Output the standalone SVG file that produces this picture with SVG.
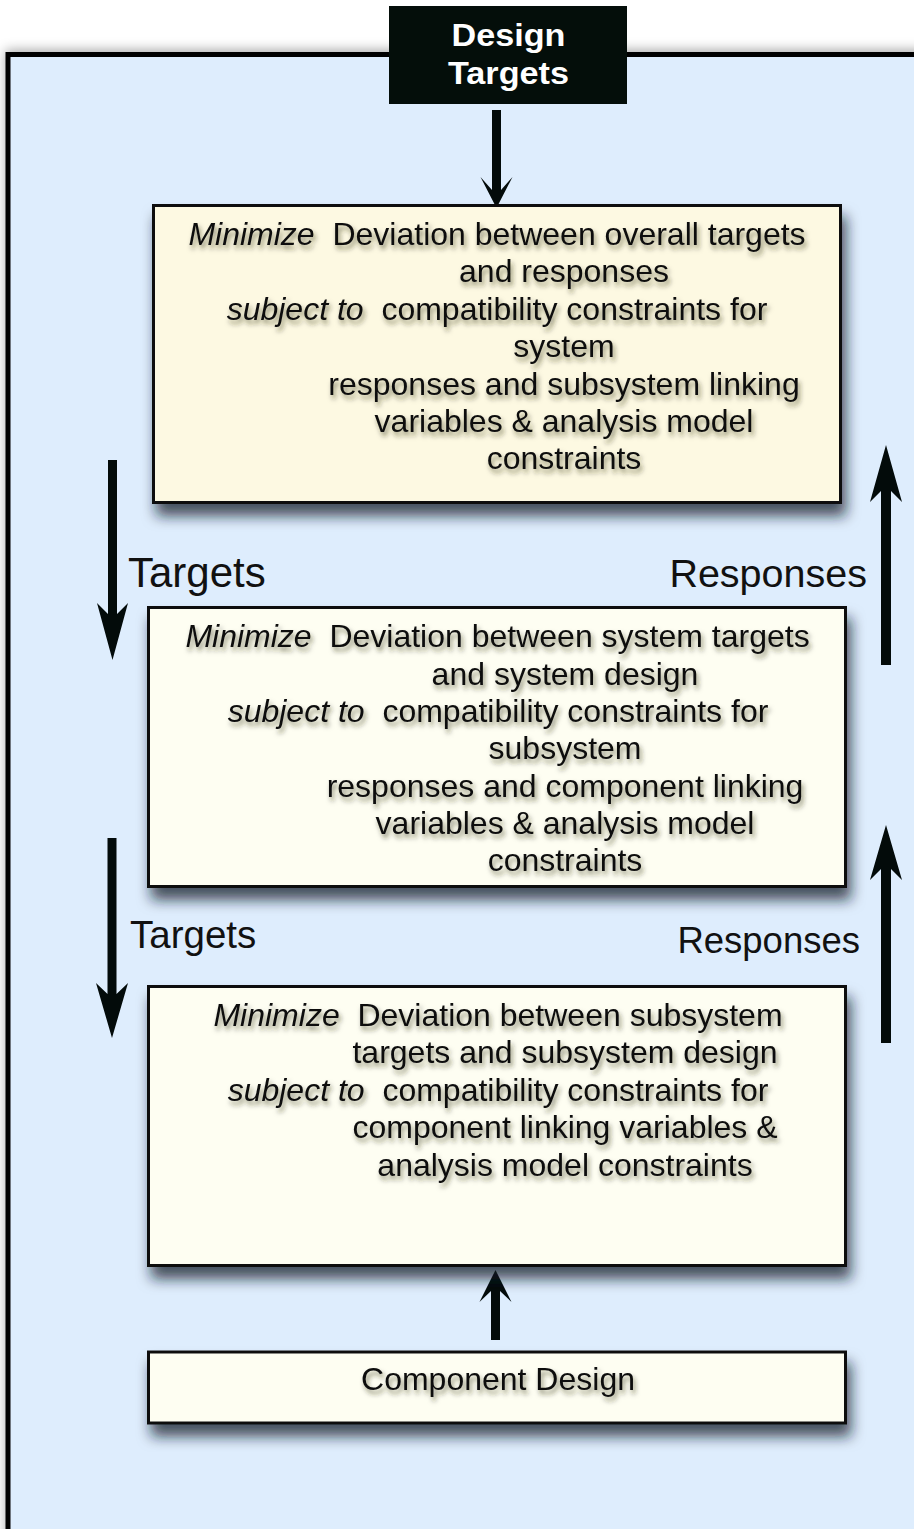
<svg xmlns="http://www.w3.org/2000/svg" width="914" height="1529" viewBox="0 0 914 1529">
<defs>
<filter id="boxShadow" x="-10%" y="-10%" width="130%" height="150%">
<feDropShadow dx="4" dy="12" stdDeviation="7" flood-color="#141c28" flood-opacity="0.75"/>
</filter>
<filter id="outerShadow" x="-5%" y="-5%" width="110%" height="110%">
<feDropShadow dx="0" dy="-2" stdDeviation="6" flood-color="#000" flood-opacity="0.35"/>
</filter>
<filter id="textShadow" x="-5%" y="-30%" width="110%" height="180%">
<feDropShadow dx="2" dy="4" stdDeviation="2.5" flood-color="#2a2a10" flood-opacity="0.55"/>
</filter>
<style>
.box1{fill:#fdf9e2;stroke:#111;stroke-width:3;filter:url(#boxShadow)}
.box{fill:#fefef2;stroke:#111;stroke-width:3;filter:url(#boxShadow)}
.t{font-family:"Liberation Sans",Arial,sans-serif;font-size:32px;fill:#111;text-anchor:middle;white-space:pre;filter:url(#textShadow)}
.lbl{font-family:"Liberation Sans",Arial,sans-serif;fill:#111;white-space:pre}
.dt{font-family:"Liberation Sans",Arial,sans-serif;font-weight:bold;font-size:31px;fill:#fff;text-anchor:middle}
.arrow{fill:#030b0a}
.it{font-style:italic}
</style>
</defs>
<rect x="0" y="0" width="914" height="1529" fill="#ffffff"/>
<g id="frame">
<rect x="8" y="54.5" width="930" height="1500" fill="#deedfd" stroke="#000" stroke-width="5" filter="url(#outerShadow)"/>
</g>
<g id="connectors">
<path class="arrow" d="M492,110 H501 V190 L512.5,177 L496.5,208 L480.5,177 L492,190 Z"/>
<path class="arrow" d="M108,460 H117 V614 L128,603 L112.5,660 L97,603 L108,614 Z"/>
<path class="arrow" d="M107.5,838 H116.5 V994 L128,983 L112,1038 L96,983 L107.5,994 Z"/>
<path class="arrow" d="M881,665 H891 V491 L902,502 L886,445 L870,502 L881,491 Z"/>
<path class="arrow" d="M881,1043 H891 V869 L902,880 L886,825 L870,880 L881,869 Z"/>
<path class="arrow" d="M491,1340 H500 V1291 L511.5,1302 L495.5,1270 L479.5,1302 L491,1291 Z"/>
</g>
<g id="design-targets">
<rect x="389" y="6" width="238" height="98" fill="#040e0a"/>
<text class="dt" x="508.5" y="46" textLength="114" lengthAdjust="spacingAndGlyphs">Design</text>
<text class="dt" x="508.5" y="84" textLength="121" lengthAdjust="spacingAndGlyphs">Targets</text>
</g>
<g id="overall-level">
<rect class="box1" x="153.5" y="205.5" width="687" height="297"/>
<text class="t" x="497" y="245"><tspan class="it">Minimize</tspan>  Deviation between overall targets</text>
<text class="t" x="564" y="282">and responses</text>
<text class="t" x="497" y="319.5"><tspan class="it">subject to</tspan>  compatibility constraints for</text>
<text class="t" x="564" y="357">system</text>
<text class="t" x="564" y="394.5">responses and subsystem linking</text>
<text class="t" x="564" y="432">variables &amp; analysis model</text>
<text class="t" x="564" y="469">constraints</text>
</g>
<g id="system-level">
<rect class="box" x="148.5" y="607.5" width="697" height="279"/>
<text class="t" x="497.5" y="647"><tspan class="it">Minimize</tspan>  Deviation between system targets</text>
<text class="t" x="565" y="684.5">and system design</text>
<text class="t" x="498" y="722"><tspan class="it">subject to</tspan>  compatibility constraints for</text>
<text class="t" x="565" y="759">subsystem</text>
<text class="t" x="565" y="796.5">responses and component linking</text>
<text class="t" x="565" y="834">variables &amp; analysis model</text>
<text class="t" x="565" y="871">constraints</text>
</g>
<g id="subsystem-level">
<rect class="box" x="148.5" y="986.5" width="697" height="279"/>
<text class="t" x="498" y="1025.5"><tspan class="it">Minimize</tspan>  Deviation between subsystem</text>
<text class="t" x="565" y="1063">targets and subsystem design</text>
<text class="t" x="498" y="1100.5"><tspan class="it">subject to</tspan>  compatibility constraints for</text>
<text class="t" x="565" y="1138">component linking variables &amp;</text>
<text class="t" x="565" y="1175.5">analysis model constraints</text>
</g>
<g id="component-design">
<rect class="box" x="148.5" y="1352" width="697" height="71"/>
<text class="t" x="498" y="1390">Component Design</text>
</g>
<g id="labels">
<text class="lbl" x="128" y="587" font-size="42">Targets</text>
<text class="lbl" x="130" y="948" font-size="38.5">Targets</text>
<text class="lbl" x="867" y="587" font-size="39.5" text-anchor="end">Responses</text>
<text class="lbl" x="860" y="953" font-size="36.5" text-anchor="end">Responses</text>
</g>
</svg>
